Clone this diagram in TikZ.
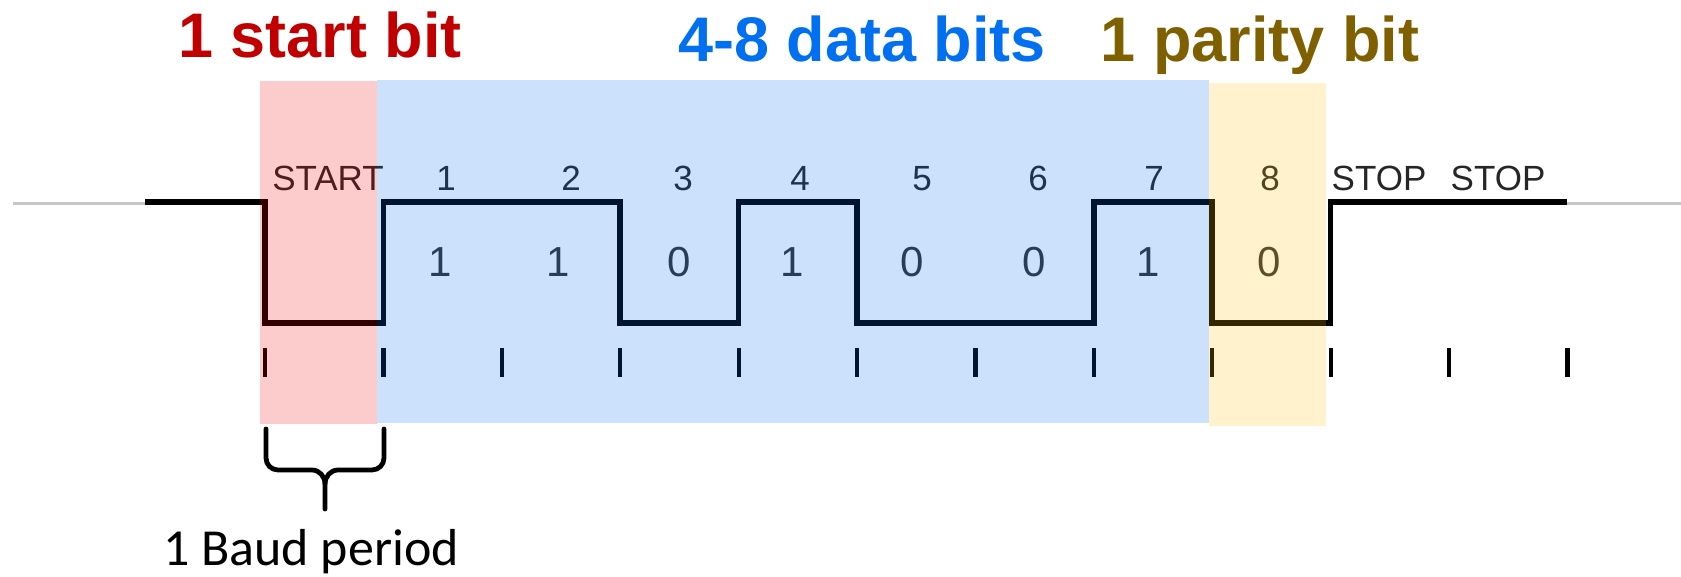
\documentclass[tikz,border=0pt]{standalone}
\usepackage{fontspec}
\setmainfont{Liberation Sans}
\newfontfamily\baudfont{Carlito}
\definecolor{startred}{RGB}{192,0,0}
\definecolor{datablue}{RGB}{0,112,240}
\definecolor{paritybrown}{RGB}{127,96,0}
\definecolor{tintred}{RGB}{240,0,0}
\definecolor{tintblue}{RGB}{0,107,240}
\definecolor{tintyellow}{RGB}{255,190,0}
\begin{document}
\begin{tikzpicture}[x=0.5pt,y=-0.5pt,
  title/.style={font=\fontsize{31.5}{36}\selectfont\bfseries, anchor=base, inner sep=0pt},
  bitno/.style={font=\fontsize{17.5}{20}\selectfont, text=black!85, anchor=base, inner sep=0pt},
  bitval/.style={font=\fontsize{21}{24}\selectfont, text=black!80, anchor=base, inner sep=0pt},
  idle/.style={draw=black!22, line width=1.5pt},
  wire/.style={draw=black, line width=2.75pt, line join=miter},
  tickmark/.style={draw=black, line width=2.1pt},
  band/.style={draw=none, fill opacity=0.2},
  bracestyle/.style={draw=black, line width=2.4pt, line cap=round, line join=round},
]
\useasboundingbox (0,0) rectangle (1681,577);

% headings
\node[title, text=startred]    (hstart)  at (320,58) {1 start bit};
\node[title, text=datablue]    (hdata)   at (862,62) {4-8 data bits};
\node[title, text=paritybrown] (hparity) at (1260,62) {1 parity bit};

% idle line
\draw[idle] (13,204) -- (262,204);
\draw[idle] (1461,204) -- (1681,204);

% waveform: start, 1 1 0 1 0 0 1, parity 0, two stops
\draw[wire] (145,202) -- (265,202) -- (265,323) -- (383.4,323) -- (383.4,202)
  -- (620.2,202) -- (620.2,323) -- (738.6,323) -- (738.6,202)
  -- (857,202) -- (857,323) -- (1093.8,323) -- (1093.8,202)
  -- (1212.2,202) -- (1212.2,323) -- (1330.6,323) -- (1330.6,202)
  -- (1567.4,202);

% bit clock ticks
\foreach \k in {0,...,11}
  \draw[tickmark] ({265+\k*118.4},348) -- ({265+\k*118.4},377);

% bit names
\node[bitno] (nstart) at (328,191) {START};
\foreach \x/\t [count=\i] in {446/1,571/2,683/3,800/4,922/5,1038/6,1154/7,1270/8}
  \node[bitno] (n\i) at (\x,191) {\t};
\node[bitno] (nstop1) at (1379,191) {STOP};
\node[bitno] (nstop2) at (1498,191) {STOP};

% bit values
\foreach \x/\t [count=\i] in {440/1,558/1,679/0,792/1,912/0,1034/0,1148/1,1269/0}
  \node[bitval] (v\i) at (\x,277) {\t};

% coloured field bands
\fill[band, tintred]    (260,81) rectangle (377,424);
\fill[band, tintblue]   (377,80) rectangle (1209,423);
\fill[band, tintyellow] (1209,83) rectangle (1326,426);

% one baud period brace
\coordinate (bl) at (266,429);
\coordinate (br) at (384,429);
\coordinate (btip) at (325,509);
\draw[bracestyle] (bl) -- (266,458) to[out=-90,in=180] (278,470) -- (312,470)
  to[out=0,in=90] (btip |- 0,484) -- (btip);
\draw[bracestyle] (br) -- (384,458) to[out=-90,in=0] (372,470) -- (338,470)
  to[out=180,in=90] (btip |- 0,484);
\node[font=\baudfont\fontsize{26}{30}\selectfont, anchor=base, inner sep=0pt] (baud) at (311,565) {1 Baud period};
\end{tikzpicture}
\end{document}
